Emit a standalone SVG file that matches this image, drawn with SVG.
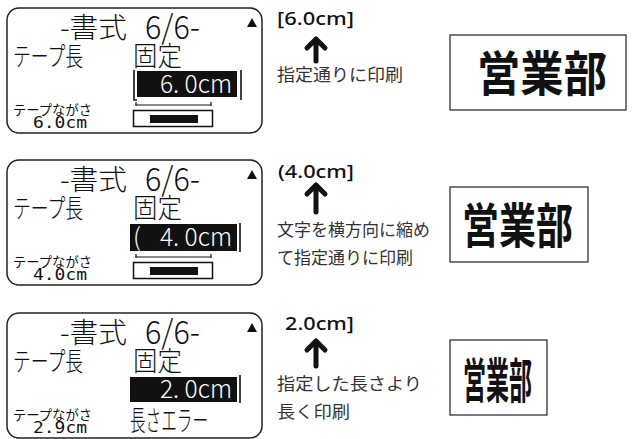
<svg xmlns="http://www.w3.org/2000/svg" width="635" height="439" viewBox="0 0 635 439">
<style>
.lcd{fill:#fff;stroke:#222;stroke-width:1.5}
.t{font-family:"Noto Sans CJK JP","Noto Sans",sans-serif;font-weight:300;fill:#111}
.w{font-family:"Noto Sans CJK JP","Noto Sans",sans-serif;font-weight:300;fill:#fff}
.sm{font-family:"Noto Sans CJK JP","Noto Sans",sans-serif;font-weight:400;fill:#111;font-size:14px}
.mono{font-family:"DejaVu Sans Mono","Liberation Mono",monospace;fill:#111;font-size:15px}
.lbl{font-family:"Noto Sans CJK JP",sans-serif;font-weight:400;fill:#333;font-size:17px}
.cm{font-family:"Noto Sans","Noto Sans CJK JP",sans-serif;font-weight:500;fill:#111;font-size:18px}
.out{fill:#fff;stroke:#222;stroke-width:1.2}
.big{font-family:"Noto Sans CJK JP",sans-serif;font-weight:700;fill:#111;font-size:48px}
.bar{stroke:#111;stroke-width:1.6}
.arr{fill:none;stroke:#111;stroke-width:5;stroke-linecap:round;stroke-linejoin:round}
</style>

<g id="lcd1">
  <rect class="lcd" x="7" y="8" width="255" height="125" rx="12"/>
  <text class="t" x="60" y="38" font-size="28" textLength="67" lengthAdjust="spacingAndGlyphs">-書式</text>
  <text class="t" x="145" y="39" font-size="33" textLength="55" lengthAdjust="spacingAndGlyphs">6/6-</text>
  <polygon points="252,18 257,27 247,27" fill="#111"/>
  <text class="t" x="13" y="66" font-size="26" textLength="70" lengthAdjust="spacingAndGlyphs">テープ長</text>
  <text class="t" x="133" y="66" font-size="27" textLength="49" lengthAdjust="spacingAndGlyphs">固定</text>
  <rect x="137" y="71" width="100" height="26" fill="#111"/>
  <path class="bar" d="M134,70 V100 H137" fill="none"/>
  <line class="bar" x1="241" y1="70" x2="241" y2="100"/>
  <text class="w" x="160" y="93" font-size="25" textLength="72" lengthAdjust="spacingAndGlyphs">6. 0cm</text>
  <path d="M136,102 V106 M136,105 H211 M211,102 V106" fill="none" stroke="#111" stroke-width="1.2"/>
  <rect x="133.5" y="110.5" width="79" height="16" fill="#fff" stroke="#111" stroke-width="1.5"/>
  <rect x="150" y="115" width="48" height="8" fill="#111"/>
  <text class="sm" x="13" y="115" textLength="79" lengthAdjust="spacingAndGlyphs">テープながさ</text>
  <text class="mono" x="33" y="128" textLength="54" lengthAdjust="spacingAndGlyphs">6.0cm</text>
</g>

<g id="lcd2" transform="translate(0,152)">
  <rect class="lcd" x="7" y="8" width="255" height="125" rx="12"/>
  <text class="t" x="60" y="38" font-size="28" textLength="67" lengthAdjust="spacingAndGlyphs">-書式</text>
  <text class="t" x="145" y="39" font-size="33" textLength="55" lengthAdjust="spacingAndGlyphs">6/6-</text>
  <polygon points="252,18 257,27 247,27" fill="#111"/>
  <text class="t" x="13" y="66" font-size="26" textLength="70" lengthAdjust="spacingAndGlyphs">テープ長</text>
  <text class="t" x="133" y="66" font-size="27" textLength="49" lengthAdjust="spacingAndGlyphs">固定</text>
  <rect x="130" y="72" width="107" height="27" fill="#111"/>
  <line class="bar" x1="240" y1="71" x2="240" y2="100"/>
  <text class="w" x="133" y="94" font-size="25">(</text>
  <text class="w" x="160" y="94" font-size="25" textLength="72" lengthAdjust="spacingAndGlyphs">4. 0cm</text>
  <path d="M136,102 V106 M136,105 H211 M211,102 V106" fill="none" stroke="#111" stroke-width="1.2"/>
  <rect x="133.5" y="110.5" width="79" height="16" fill="#fff" stroke="#111" stroke-width="1.5"/>
  <rect x="150" y="115" width="48" height="8" fill="#111"/>
  <text class="sm" x="13" y="115" textLength="79" lengthAdjust="spacingAndGlyphs">テープながさ</text>
  <text class="mono" x="33" y="128" textLength="54" lengthAdjust="spacingAndGlyphs">4.0cm</text>
</g>

<g id="lcd3" transform="translate(0,305)">
  <rect class="lcd" x="7" y="8" width="255" height="125" rx="12"/>
  <text class="t" x="60" y="38" font-size="28" textLength="67" lengthAdjust="spacingAndGlyphs">-書式</text>
  <text class="t" x="145" y="39" font-size="33" textLength="55" lengthAdjust="spacingAndGlyphs">6/6-</text>
  <polygon points="252,18 257,27 247,27" fill="#111"/>
  <text class="t" x="13" y="66" font-size="26" textLength="70" lengthAdjust="spacingAndGlyphs">テープ長</text>
  <text class="t" x="133" y="66" font-size="27" textLength="49" lengthAdjust="spacingAndGlyphs">固定</text>
  <rect x="130" y="72" width="107" height="25" fill="#111"/>
  <line class="bar" x1="240" y1="70" x2="240" y2="98"/>
  <text class="w" x="160" y="93" font-size="25" textLength="72" lengthAdjust="spacingAndGlyphs">2. 0cm</text>
  <text class="t" x="130" y="126" font-size="28" textLength="78" lengthAdjust="spacingAndGlyphs">長さエラー</text>
  <text class="sm" x="13" y="115" textLength="79" lengthAdjust="spacingAndGlyphs">テープながさ</text>
  <text class="mono" x="33" y="128" textLength="54" lengthAdjust="spacingAndGlyphs">2.9cm</text>
</g>

<g id="label1">
  <text class="cm" x="277" y="25" textLength="77" lengthAdjust="spacingAndGlyphs">[6.0cm]</text>
  <text class="lbl" x="277" y="81" textLength="126" lengthAdjust="spacingAndGlyphs">指定通りに印刷</text>
</g>
<g id="label2">
  <text class="cm" x="278" y="178" textLength="76" lengthAdjust="spacingAndGlyphs">(4.0cm]</text>
  <text class="lbl" x="277" y="236" textLength="153" lengthAdjust="spacingAndGlyphs">文字を横方向に縮め</text>
  <text class="lbl" x="277" y="264" textLength="136" lengthAdjust="spacingAndGlyphs">て指定通りに印刷</text>
</g>
<g id="label3">
  <text class="cm" x="285" y="330" textLength="69" lengthAdjust="spacingAndGlyphs">2.0cm]</text>
  <text class="lbl" x="277" y="390" textLength="145" lengthAdjust="spacingAndGlyphs">指定した長さより</text>
  <text class="lbl" x="277" y="418" textLength="73" lengthAdjust="spacingAndGlyphs">長く印刷</text>
</g>

<g id="print1">
  <rect class="out" x="450" y="35" width="176" height="75"/>
  <text class="big" x="477" y="91" textLength="130" lengthAdjust="spacingAndGlyphs">営業部</text>
</g>
<g id="print2">
  <rect class="out" x="450" y="187" width="138" height="75"/>
  <text class="big" x="462" y="243" textLength="111" lengthAdjust="spacingAndGlyphs">営業部</text>
</g>
<g id="print3">
  <rect class="out" x="450" y="340" width="97" height="75"/>
  <text class="big" x="463" y="398" textLength="69" lengthAdjust="spacingAndGlyphs">営業部</text>
</g>

<g id="connectors">
  <path class="arr" d="M316,61 V40 M307,48 L316,39 L325,48"/>
  <path class="arr" d="M316,212 V187 M307,194 L316,185 L325,194"/>
  <path class="arr" d="M316,366 V343 M307,350 L316,341 L325,350"/>
</g>
</svg>
